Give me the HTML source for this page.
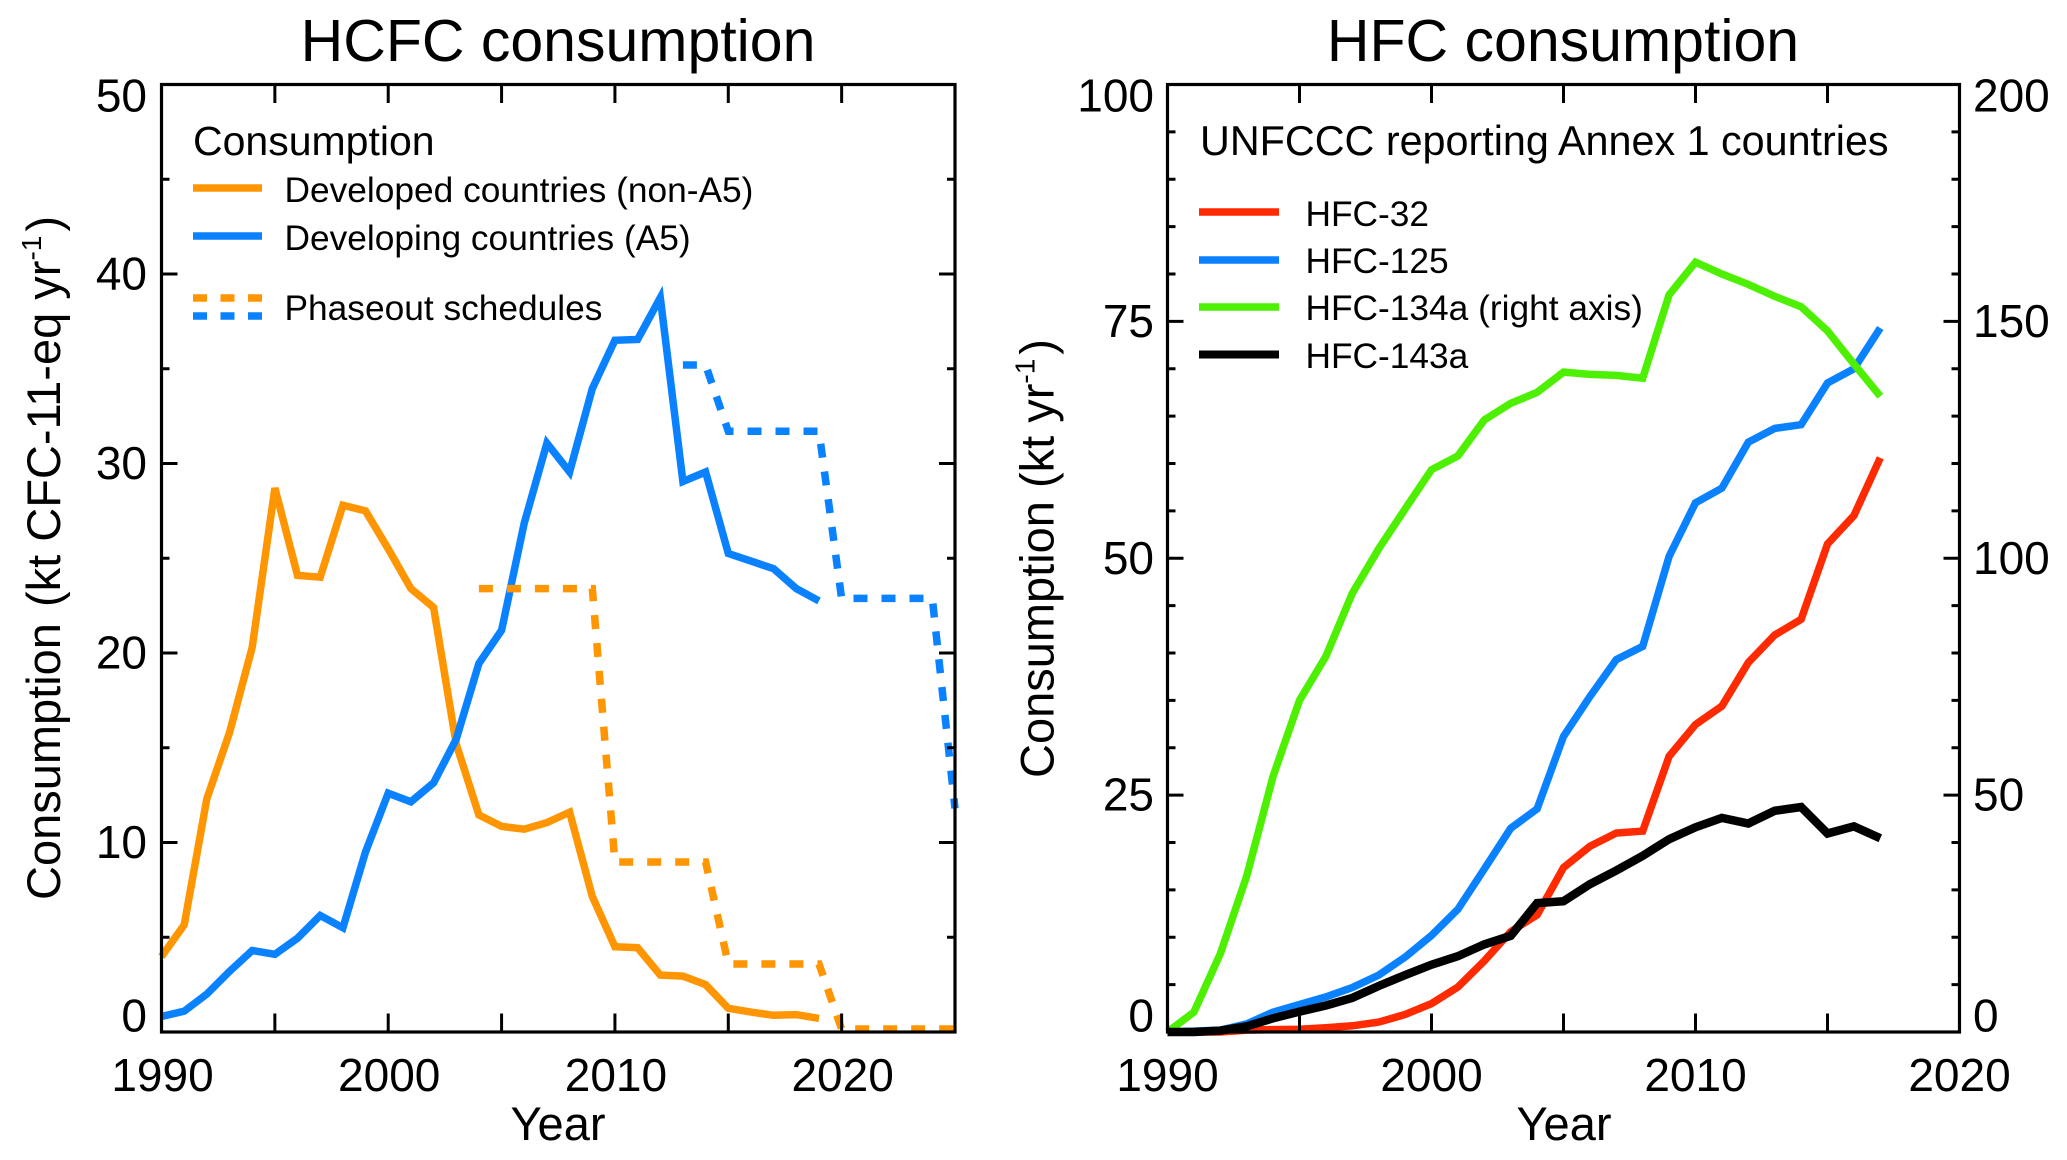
<!DOCTYPE html>
<html>
<head>
<meta charset="utf-8">
<title>HCFC and HFC consumption</title>
<style>
html,body{margin:0;padding:0;background:#fff;}
svg{display:block;}
text{font-family:"Liberation Sans",Arial,sans-serif;fill:#000;}
</style>
</head>
<body>
<svg id="chart" width="2067" height="1160" viewBox="0 0 2067 1160" xmlns="http://www.w3.org/2000/svg">
  <rect width="2067" height="1160" fill="#fff"/>
  <g id="left-panel">
    <text x="558" y="61" font-size="59" text-anchor="middle">HCFC consumption</text>
    <g id="left-series"></g>
    <g id="left-axes"></g>
    <text transform="translate(60,900) rotate(-90)" font-size="47">Consumption <tspan dx="3">(kt CFC-11-eq yr</tspan><tspan font-size="28" dy="-19">-1</tspan><tspan dy="19" dx="4">)</tspan></text>
    <text x="558" y="1140" font-size="47" text-anchor="middle">Year</text>
    <text x="193" y="155" font-size="41">Consumption</text>
    <line x1="193" x2="262" y1="188" y2="188" stroke="#ff9500" stroke-width="7.5"/>
    <text x="284.5" y="202" font-size="35.3">Developed countries (non-A5)</text>
    <line x1="193" x2="262" y1="236" y2="236" stroke="#0a82ff" stroke-width="7.5"/>
    <text x="284.5" y="250" font-size="35.3">Developing countries (A5)</text>
    <line x1="193" x2="262" y1="298" y2="298" stroke="#ff9500" stroke-width="7.5" stroke-dasharray="14 13.5"/>
    <line x1="193" x2="262" y1="316" y2="316" stroke="#0a82ff" stroke-width="7.5" stroke-dasharray="14 13.5"/>
    <text x="284.5" y="320" font-size="35.3">Phaseout schedules</text>
  </g>
  <g id="right-panel">
    <text x="1563" y="61" font-size="59" text-anchor="middle">HFC consumption</text>
    <g id="right-series"></g>
    <g id="right-axes"></g>
    <text transform="translate(1053.5,778) rotate(-90)" font-size="47">Consumption (kt yr<tspan font-size="28" dy="-19">-1</tspan><tspan dy="19" dx="4">)</tspan></text>
    <text x="1564" y="1140" font-size="47" text-anchor="middle">Year</text>
    <text x="1200" y="155" font-size="41.3">UNFCCC reporting Annex 1 countries</text>
    <line x1="1199" x2="1279" y1="212" y2="212" stroke="#ff2a00" stroke-width="7.5"/>
    <text x="1305.5" y="226" font-size="35.3">HFC-32</text>
    <line x1="1199" x2="1279" y1="260" y2="260" stroke="#0a82ff" stroke-width="7.5"/>
    <text x="1305.5" y="273" font-size="35.3">HFC-125</text>
    <line x1="1199" x2="1279" y1="307" y2="307" stroke="#4cf000" stroke-width="7.5"/>
    <text x="1305.5" y="320" font-size="35.3">HFC-134a (right axis)</text>
    <line x1="1199" x2="1279" y1="354.5" y2="354.5" stroke="#000" stroke-width="8"/>
    <text x="1305.5" y="368" font-size="35.3">HFC-143a</text>
  </g>
</svg>
<script>
// HCFC panel data
const hcfcYears = [1990,1991,1992,1993,1994,1995,1996,1997,1998,1999,2000,2001,2002,2003,2004,2005,2006,2007,2008,2009,2010,2011,2012,2013,2014,2015,2016,2017,2018,2019];
const developedValues = [3.98,5.65,12.3,15.8,20.3,28.7,24.1,24.0,27.8,27.5,25.5,23.4,22.4,15.2,11.45,10.85,10.7,11.05,11.6,7.15,4.5,4.45,3.0,2.95,2.5,1.25,1.05,0.88,0.92,0.72];
const developingValues = [0.82,1.1,2.0,3.2,4.3,4.1,4.95,6.15,5.5,9.5,12.6,12.15,13.15,15.45,19.45,21.2,26.85,31.07,29.55,33.95,36.5,36.55,38.75,29.05,29.55,25.25,24.85,24.45,23.4,22.75];
const phaseoutDevelopedYears = [2004,2009,2010,2014,2015,2019,2020,2025];
const phaseoutDevelopedValues = [23.4,23.4,8.97,8.97,3.59,3.59,0.16,0.16];
const phaseoutDevelopingYears = [2013,2014,2015,2019,2020,2024,2025];
const phaseoutDevelopingValues = [35.2,35.2,31.7,31.7,22.88,22.88,11.8];
// HFC panel data
const hfcYears = [1990,1991,1992,1993,1994,1995,1996,1997,1998,1999,2000,2001,2002,2003,2004,2005,2006,2007,2008,2009,2010,2011,2012,2013,2014,2015,2016,2017];
const hfc32Values = [0,0,0,0.2,0.25,0.3,0.45,0.65,1.05,1.85,3.0,4.75,7.5,10.6,12.35,17.35,19.6,21,21.2,29.1,32.45,34.4,39,41.9,43.55,51.5,54.5,60.6];
const hfc125Values = [0,0.1,0.2,0.85,2.1,2.9,3.7,4.7,6,7.9,10.2,12.95,17.2,21.5,23.55,31.2,35.4,39.3,40.7,50.2,55.85,57.4,62.25,63.7,64.1,68.5,70,74.3];
const hfc134aRightAxisValues = [0,4.2,16.5,32.9,54,70,79.3,92.6,102,110.4,118.7,121.6,129.2,132.7,135,139.3,138.8,138.6,138,155.6,162.5,160,157.8,155.3,153.1,148,141,134.2];
const hfc143aValues = [0,0,0.15,0.6,1.45,2.15,2.8,3.6,4.85,6,7.1,8,9.25,10.15,13.6,13.8,15.6,17.05,18.6,20.35,21.6,22.6,22,23.35,23.75,20.95,21.7,20.45];
// Axis labels
const hcfcXTickLabels = [1990,2000,2010,2020];
const hcfcYTickLabels = [0,10,20,30,40,50];
const hfcXTickLabels = [1990,2000,2010,2020];
const hfcLeftTickLabels = [0,25,50,75,100];
const hfcRightTickLabels = [0,50,100,150,200];

const NS = 'http://www.w3.org/2000/svg';
const TOP = 84.5, BOTTOM = 1032;

function scale(d0, d1, r0, r1) {
  return function (v) { return r0 + (v - d0) / (d1 - d0) * (r1 - r0); };
}
const hcfcX = scale(1990, 2025, 161.5, 955);
const hcfcY = scale(0, 50, BOTTOM, TOP);
const hfcX = scale(1990, 2020, 1167.5, 1959.5);
const hfcY = scale(0, 100, BOTTOM, TOP);
const hfcYRight = scale(0, 200, BOTTOM, TOP);

function drawLine(parent, name, xs, ys, xFn, yFn, color, width, dash) {
  const p = document.createElementNS(NS, 'polyline');
  
  
  p.setAttribute('points', xs.map(function (x, i) { return xFn(x).toFixed(1) + ',' + yFn(ys[i]).toFixed(1); }).join(' '));
  p.setAttribute('fill', 'none');
  p.setAttribute('stroke', color);
  p.setAttribute('stroke-width', width);
  p.setAttribute('stroke-linejoin', 'miter');
  if (dash) p.setAttribute('stroke-dasharray', dash);
  parent.appendChild(p);
}
function tick(parent, x1, y1, x2, y2, width) {
  const l = document.createElementNS(NS, 'line');
  
  
  l.setAttribute('x1', x1);
  l.setAttribute('y1', y1);
  l.setAttribute('x2', x2);
  l.setAttribute('y2', y2);
  l.setAttribute('stroke', '#000');
  l.setAttribute('stroke-width', width);
  parent.appendChild(l);
}
function label(parent, x, y, anchor, content) {
  const t = document.createElementNS(NS, 'text');
  
  
  t.setAttribute('x', x);
  t.setAttribute('y', y);
  t.setAttribute('text-anchor', anchor);
  t.setAttribute('font-size', '46');
  t.textContent = content;
  parent.appendChild(t);
}
// IDL-style nudging of first and last y labels so they stay within the frame
function yLabelBaseline(y) {
  if (Math.abs(y - BOTTOM) < 1) return y - 0.5;
  if (Math.abs(y - TOP) < 1) return y + 27;
  return y + 15.5;
}
function frame(parent, x0, x1, xFn, xFirst, xLast, yFn, minorMax, minorStep, majorStep) {
  const r = document.createElementNS(NS, 'rect');
  
  
  r.setAttribute('x', x0);
  r.setAttribute('y', TOP);
  r.setAttribute('width', x1 - x0);
  r.setAttribute('height', BOTTOM - TOP);
  r.setAttribute('fill', 'none');
  r.setAttribute('stroke', '#000');
  r.setAttribute('stroke-width', '3.2');
  parent.appendChild(r);
  for (let yr = xFirst; yr <= xLast; yr += 5) {
    const x = xFn(yr);
    tick(parent, x, BOTTOM, x, BOTTOM - 18.5, 3);
    tick(parent, x, TOP, x, TOP + 18.5, 3);
  }
  for (let v = minorStep; v < minorMax; v += minorStep) {
    const y = yFn(v);
    const len = v % majorStep === 0 ? 16 : 8;
    tick(parent, x0, y, x0 + len, y, 3);
    tick(parent, x1, y, x1 - len, y, 3);
  }
}

const ls = document.getElementById('left-series');
const la = document.getElementById('left-axes');
drawLine(ls, 'series-developed', hcfcYears, developedValues, hcfcX, hcfcY, '#ff9500', 7.5);
drawLine(ls, 'series-developing', hcfcYears, developingValues, hcfcX, hcfcY, '#0a82ff', 7.5);
drawLine(ls, 'series-phaseout-developed', phaseoutDevelopedYears, phaseoutDevelopedValues, hcfcX, hcfcY, '#ff9500', 7.5, '14 14');
drawLine(ls, 'series-phaseout-developing', phaseoutDevelopingYears, phaseoutDevelopingValues, hcfcX, hcfcY, '#0a82ff', 7.5, '14 14');
frame(la, 161.5, 955, hcfcX, 1995, 2020, hcfcY, 50, 5, 10);
hcfcXTickLabels.forEach(function (v) { label(la, hcfcX(v) + 1, 1091, 'middle', v); });
hcfcYTickLabels.forEach(function (v) { label(la, 147, yLabelBaseline(hcfcY(v)), 'end', v); });

const rs = document.getElementById('right-series');
const ra = document.getElementById('right-axes');
drawLine(rs, 'series-hfc-32', hfcYears, hfc32Values, hfcX, hfcY, '#ff2a00', 7.5);
drawLine(rs, 'series-hfc-125', hfcYears, hfc125Values, hfcX, hfcY, '#0a82ff', 7.5);
drawLine(rs, 'series-hfc-134a', hfcYears, hfc134aRightAxisValues, hfcX, hfcYRight, '#4cf000', 7.5);
drawLine(rs, 'series-hfc-143a', hfcYears, hfc143aValues, hfcX, hfcY, '#000', 8.5);
frame(ra, 1167.5, 1959.5, hfcX, 1995, 2015, hfcY, 100, 5, 25);
hfcXTickLabels.forEach(function (v) { label(ra, hfcX(v), 1091, 'middle', v); });
hfcLeftTickLabels.forEach(function (v) { label(ra, 1154, yLabelBaseline(hfcY(v)), 'end', v); });
hfcRightTickLabels.forEach(function (v) { label(ra, 1973, yLabelBaseline(hfcYRight(v)), 'start', v); });
</script>
</body>
</html>
